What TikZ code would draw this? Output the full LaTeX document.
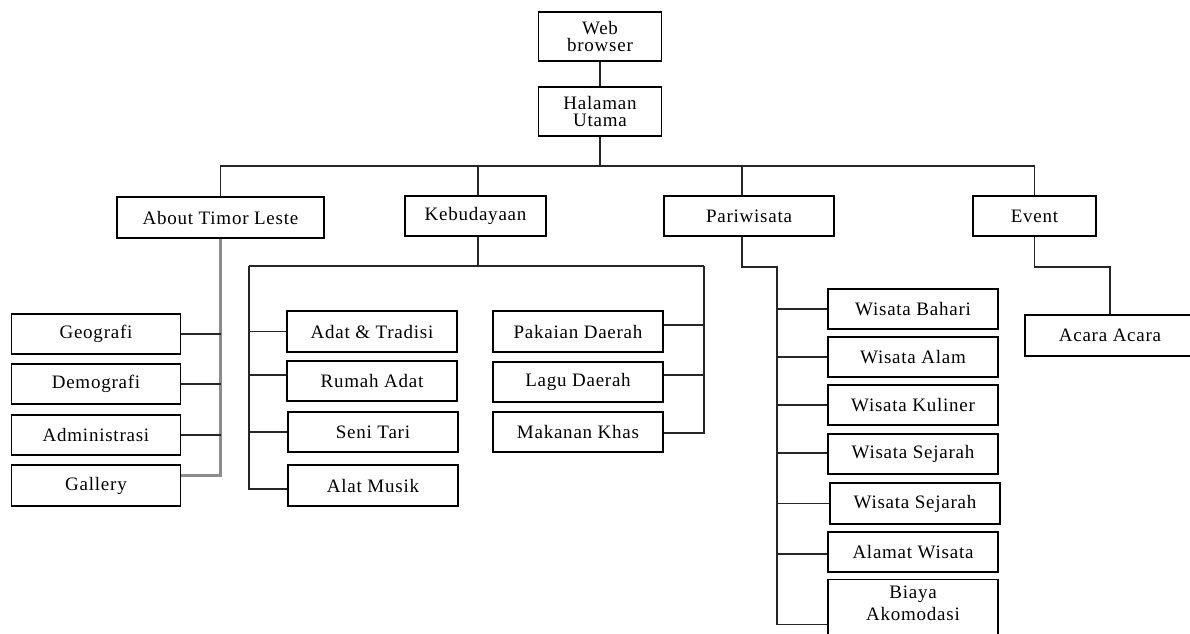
\documentclass[tikz,border=0pt]{standalone}
\usepackage{fontspec}
\setmainfont{Liberation Serif}[LetterSpace=4.0]
\begin{document}
\begin{tikzpicture}[x=1pt,y=-1pt,
  box/.style={draw=black, line width=1.4pt, inner sep=0pt, align=center,
    font=\fontsize{19}{17.5}\selectfont, text=black},
  lbl/.style={inner sep=0pt, align=center, font=\fontsize{19}{22}\selectfont, text=black},
  conn/.style={draw=black!85, line width=1.4pt},
  gconn/.style={draw=black!45, line width=3pt}]
\clip (0,0) rectangle (1190,633);
\fill[white] (0,0) rectangle (1190,633);
% top
\node[box, minimum width=123, minimum height=49] (web) at (600,36.5) {Web\\browser};
\node[box, minimum width=123, minimum height=49] (hal) at (600,111.5) {Halaman\\Utama};
% level 1
\node[box, minimum width=207, minimum height=41] (about) at (220.5,217.5) {About Timor Leste};
\node[box, minimum width=141, minimum height=40] (keb) at (475.5,216) {Kebudayaan};
\node[box, minimum width=170, minimum height=40] (par) at (749,216) {Pariwisata};
\node[box, minimum width=123, minimum height=40] (evt) at (1034.5,216) {Event};
% about children
\node[box, minimum width=169.5, minimum height=40] (geo) at (96,334) {Geografi};
\node[box, minimum width=169.5, minimum height=40] (dem) at (96,384) {Demografi};
\node[box, minimum width=169.5, minimum height=40] (adm) at (96,435) {Administrasi};
\node[box, minimum width=169.5, minimum height=41] (gal) at (96,485.5) {Gallery};
% kebudayaan children
\node[box, minimum width=170, minimum height=41] (adat) at (372,331.5) {Adat \& Tradisi};
\node[box, minimum width=170, minimum height=40] (rumah) at (372,381) {Rumah Adat};
\node[box, minimum width=170, minimum height=40] (seni) at (373,432) {Seni Tari};
\node[box, minimum width=170, minimum height=41] (alat) at (373,485.5) {Alat Musik};
\node[box, minimum width=170, minimum height=41] (pak) at (578,331.5) {Pakaian Daerah};
\node[box, minimum width=170, minimum height=40] (lagu) at (578,382) {Lagu Daerah};
\node[box, minimum width=170, minimum height=40] (mak) at (578,432) {Makanan Khas};
% pariwisata children
\node[box, minimum width=170, minimum height=40] (wb) at (913,309) {Wisata Bahari};
\node[box, minimum width=170, minimum height=40] (wa) at (913,357) {Wisata Alam};
\node[box, minimum width=170, minimum height=40] (wk) at (913,405) {Wisata Kuliner};
\node[box, minimum width=170, minimum height=40] (ws1) at (913,454) {Wisata Sejarah};
\node[box, minimum width=170, minimum height=41] (ws2) at (915,503.5) {Wisata Sejarah};
\node[box, minimum width=170, minimum height=40] (wal) at (913,552) {Alamat Wisata};
\node[box, minimum width=170, minimum height=70, anchor=north] (bia) at (913,579) {};
\node[lbl] (biat) at (913,603) {Biaya\\Akomodasi};
% event child
\node[box, minimum width=170, minimum height=41] (acara) at (1110,335.5) {Acara Acara};
% coordinates
\coordinate (bus) at (0,166);
\coordinate (kl) at (249,266);
\coordinate (kr) at (704,266);
\coordinate (pj) at (777,267);
\coordinate (ej) at (1110,267);
% connectors top
\draw[conn] (web.south) -- (hal.north);
\draw[conn] (hal.south) -- (hal.south |- bus);
\draw[conn] (about.north) -- (about.north |- bus) -- (evt.north |- bus) -- (evt.north);
\draw[conn] ([xshift=2.5pt]keb.north) -- ([xshift=2.5pt]keb.north |- bus);
\draw[conn] ([xshift=-7pt]par.north) -- ([xshift=-7pt]par.north |- bus);
% about
\draw[gconn] (about.south) |- ([yshift=10pt]gal.east);
\draw[conn] (geo.east) -- (geo.east -| about.south);
\draw[conn] (dem.east) -- (dem.east -| about.south);
\draw[conn] (adm.east) -- (adm.east -| about.south);
% kebudayaan
\draw[conn] ([xshift=2.5pt]keb.south) -- ([xshift=2.5pt]keb.south |- kl);
\draw[conn] (kl) -- (kr);
\draw[conn] (kl) |- ([yshift=-3.5pt]alat.west);
\draw[conn] (adat.west) -- (adat.west -| kl);
\draw[conn] ([yshift=6pt]rumah.west) -- ([yshift=6pt]rumah.west -| kl);
\draw[conn] (seni.west) -- (seni.west -| kl);
\draw[conn] (kr) |- ([yshift=-1pt]mak.east);
\draw[conn] ([yshift=6.5pt]pak.east) -- ([yshift=6.5pt]pak.east -| kr);
\draw[conn] ([yshift=7pt]lagu.east) -- ([yshift=7pt]lagu.east -| kr);
% pariwisata
\draw[conn] ([xshift=-7pt]par.south) |- (pj) |- ([yshift=-10pt]bia.west);
\draw[conn] (wb.west) -- (wb.west -| pj);
\draw[conn] (wa.west) -- (wa.west -| pj);
\draw[conn] (wk.west) -- (wk.west -| pj);
\draw[conn] ([yshift=1pt]ws1.west) -- ([yshift=1pt]ws1.west -| pj);
\draw[conn] (ws2.west) -- (ws2.west -| pj);
\draw[conn] ([yshift=-2pt]wal.west) -- ([yshift=-2pt]wal.west -| pj);
% event
\draw[conn] (evt.south) |- (ej) -- (acara.north);
\end{tikzpicture}
\end{document}
